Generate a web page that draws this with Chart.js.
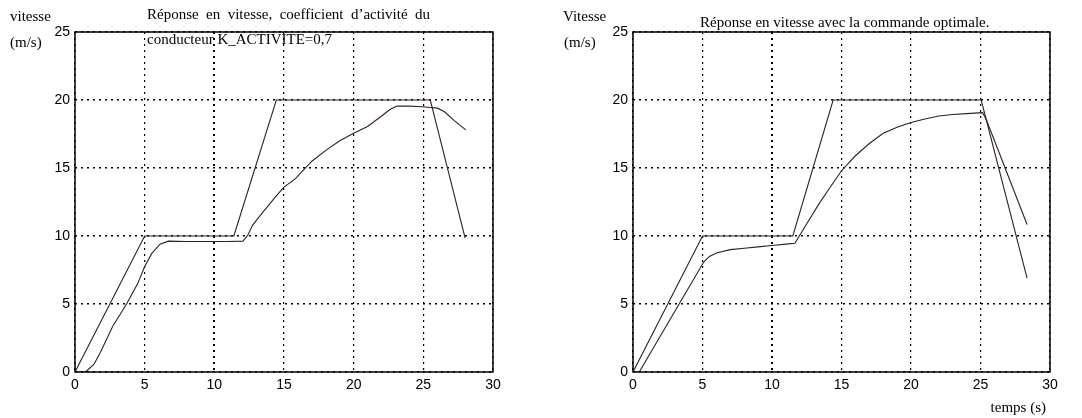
<!DOCTYPE html>
<html>
<head>
<meta charset="utf-8">
<script src="https://cdn.jsdelivr.net/npm/chart.js@4/dist/chart.umd.min.js"></script>
<style>
  html, body { margin: 0; padding: 0; background: #fff; }
  #wrap { position: relative; width: 1082px; height: 418px; overflow: hidden; }
  canvas { position: absolute; top: 0; }
  #c1 { left: 0; }
  #c2 { left: 541px; }
</style>
</head>
<body>
<div id="wrap">
  <canvas id="c1" width="541" height="418"></canvas>
  <canvas id="c2" width="541" height="418"></canvas>
</div>
<script>
// Axis ticks (time in s, speed in m/s)
const timeTicks = [0, 5, 10, 15, 20, 25, 30];
const speedTicks = [0, 5, 10, 15, 20, 25];

// Driver model, K_ACTIVITE = 0,7 : speed command
const drvCmdT = [0, 5, 11.4, 14.45, 25.5, 28.0];
const drvCmdV = [0, 10, 10, 20, 20, 9.85];
// Driver model : vehicle speed response
const drvRespT = [0, 0.75, 1.35, 1.8, 2.7, 3.7, 4.5, 5.0, 5.5, 6.1, 6.7, 8.0, 10.0, 11.0, 12.05, 12.4, 12.75, 13.4, 14.4, 15.0, 15.8, 17.0, 18.0, 19.0, 20.0, 21.0, 22.1, 22.6, 23.1, 24.0, 24.9, 25.5, 26.0, 26.5, 27.2, 28.05];
const drvRespV = [0, 0, 0.55, 1.4, 3.35, 5.0, 6.5, 7.75, 8.7, 9.4, 9.62, 9.6, 9.6, 9.6, 9.62, 10.05, 10.8, 11.65, 12.9, 13.6, 14.2, 15.5, 16.3, 17.0, 17.55, 18.05, 18.9, 19.3, 19.55, 19.55, 19.5, 19.45, 19.4, 19.15, 18.5, 17.8];

// Optimal control : speed command
const optCmdT = [0, 5, 11.5, 14.4, 25.05, 28.35];
const optCmdV = [0, 10, 10, 20, 20, 6.9];
// Optimal control : vehicle speed response
const optRespT = [0, 0.45, 5.1, 5.5, 6.0, 7.0, 8.0, 9.0, 10.0, 11.0, 11.65, 12.5, 13.4, 14.2, 15.0, 16.0, 17.0, 18.0, 19.0, 20.0, 21.0, 22.0, 23.0, 24.0, 25.15, 25.4, 28.35];
const optRespV = [0, 0, 8.1, 8.5, 8.75, 9.0, 9.1, 9.2, 9.3, 9.4, 9.46, 10.9, 12.4, 13.6, 14.8, 15.9, 16.8, 17.55, 18.0, 18.35, 18.6, 18.82, 18.93, 19.0, 19.07, 18.6, 10.85];

const LINE = '#2e2222';
const SANS = '"Liberation Sans", Arial, sans-serif';
const SERIF = '"Liberation Serif", "Times New Roman", serif';

function pts(ts, vs) { return ts.map((t, i) => ({ x: t, y: vs[i] })); }

function series(ts, vs) {
  return { data: pts(ts, vs), borderColor: LINE, borderWidth: 1.1, pointRadius: 0, tension: 0, fill: false };
}

// Frame around the plot area plus free text labels
const framePlugin = {
  id: 'frameText',
  afterDraw(chart, args, opts) {
    const { ctx, chartArea: a } = chart;
    ctx.save();
    ctx.strokeStyle = '#000';
    ctx.lineWidth = 1.5;
    ctx.strokeRect(a.left, a.top, a.right - a.left, a.bottom - a.top);
    ctx.fillStyle = '#000';
    ctx.textBaseline = 'middle';
    (opts.texts || []).forEach(tx => {
      ctx.font = (tx.size || 15) + 'px ' + SERIF;
      if (tx.justifyTo) {
        // spread words evenly between x and justifyTo
        const words = tx.text.split(' ');
        const widths = words.map(w => ctx.measureText(w).width);
        const total = widths.reduce((s, w) => s + w, 0);
        const gap = (tx.justifyTo - tx.x - total) / (words.length - 1);
        let x = tx.x;
        ctx.textAlign = 'left';
        words.forEach((w, i) => { ctx.fillText(w, x, tx.y); x += widths[i] + gap; });
      } else {
        ctx.textAlign = tx.align || 'left';
        ctx.fillText(tx.text, tx.x, tx.y);
      }
    });
    ctx.restore();
  }
};

function makeChart(id, cmdT, cmdV, respT, respV, yWidth, rightPad, texts) {
  return new Chart(document.getElementById(id), {
    type: 'line',
    data: { datasets: [series(cmdT, cmdV), series(respT, respV)] },
    options: {
      responsive: false,
      animation: false,
      events: [],
      layout: { padding: { left: 0, right: rightPad, top: 32, bottom: 16 } },
      plugins: { legend: { display: false }, tooltip: { enabled: false }, frameText: { texts } },
      scales: {
        x: {
          type: 'linear', min: timeTicks[0], max: timeTicks[timeTicks.length - 1],
          afterBuildTicks: s => { s.ticks = timeTicks.map(v => ({ value: v })); },
          afterFit: s => { s.height = 30; },
          grid: { color: '#000', lineWidth: c => (c.tick && c.tick.value === 10 ? 2 : 1.2), drawTicks: false },
          border: { display: false, dash: [2, 4] },
          ticks: { color: '#000', font: { family: SANS, size: 14 }, padding: 5, maxRotation: 0 }
        },
        y: {
          type: 'linear', min: speedTicks[0], max: speedTicks[speedTicks.length - 1],
          afterBuildTicks: s => { s.ticks = speedTicks.map(v => ({ value: v })); },
          afterFit: s => { s.width = yWidth; },
          grid: { color: '#000', lineWidth: 1.6, drawTicks: false },
          border: { display: false, dash: [2, 4] },
          ticks: { color: '#000', font: { family: SANS, size: 14 }, padding: 5 }
        }
      }
    },
    plugins: [framePlugin]
  });
}

makeChart('c1', drvCmdT, drvCmdV, drvRespT, drvRespV, 75, 48, [
  { text: 'vitesse', x: 10, y: 17 },
  { text: '(m/s)', x: 10, y: 43 },
  { text: 'Réponse en vitesse, coefficient d’activité du', x: 147, y: 15, justifyTo: 430 },
  { text: 'conducteur K_ACTIVITE=0,7', x: 147, y: 40 }
]);

makeChart('c2', optCmdT, optCmdV, optRespT, optRespV, 92, 32, [
  { text: 'Vitesse', x: 22, y: 17 },
  { text: '(m/s)', x: 23, y: 43 },
  { text: 'Réponse en vitesse avec la commande optimale.', x: 159, y: 23 },
  { text: 'temps (s)', x: 505, y: 408, align: 'right' }
]);
</script>
</body>
</html>
